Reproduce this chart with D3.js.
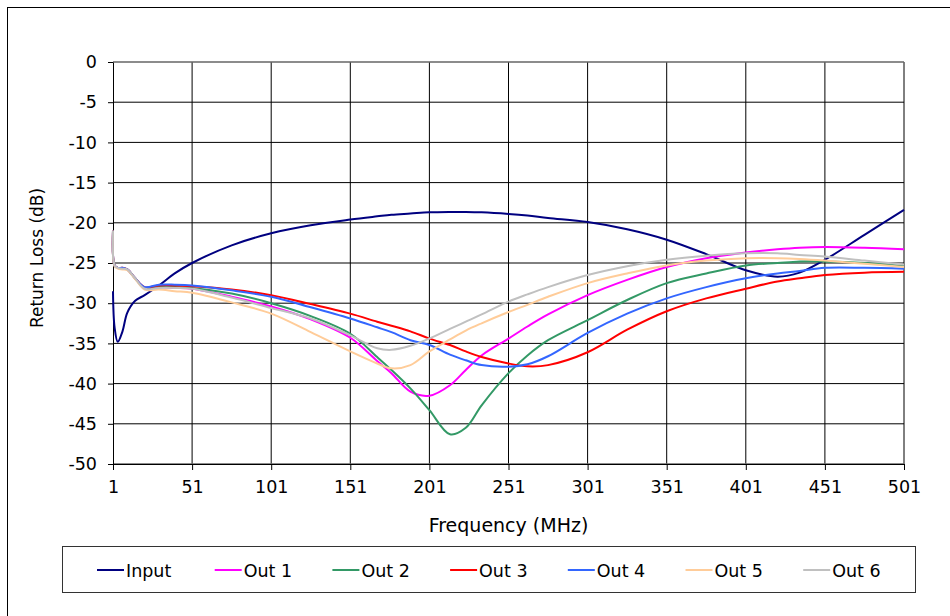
<!DOCTYPE html>
<html>
<head>
<meta charset="utf-8">
<script src="https://cdn.jsdelivr.net/npm/d3@7"></script>
<style>
  body { margin: 0; background: #fff; }
  svg { display: block; font-family: "DejaVu Sans", Verdana, sans-serif; }
</style>
</head>
<body>
<div id="chart"></div>
<script>
// valores (dB) en cada frecuencia (MHz)
const frecuencias = [1, 2, 4, 7, 10, 15, 21, 30, 40, 51, 76, 101, 126, 151, 168, 177, 189, 201, 214, 224, 234, 251, 263, 276, 301, 326, 351, 376, 401, 421, 435, 451, 476, 501];

const input = [-28.5, -33.0, -34.8, -33.5, -31.2, -29.7, -29.0, -27.8, -26.3, -25.0, -22.8, -21.3, -20.3, -19.6, -19.2, -19.0, -18.85, -18.7, -18.65, -18.65, -18.7, -18.9, -19.1, -19.4, -19.9, -20.8, -22.1, -23.9, -25.9, -26.7, -26.2, -24.6, -21.5, -18.4];
const out1 = [-21.0, -25.3, -25.6, -25.7, -25.8, -26.9, -28.1, -28.0, -28.1, -28.2, -29.2, -30.4, -32.0, -34.3, -37.2, -38.7, -41.0, -41.5, -40.2, -38.3, -36.5, -34.4, -32.9, -31.4, -29.0, -27.1, -25.5, -24.4, -23.7, -23.3, -23.1, -23.0, -23.1, -23.3];
const out2 = [-21.0, -25.3, -25.6, -25.7, -25.8, -26.9, -28.1, -27.9, -28.0, -28.1, -28.8, -30.0, -31.6, -33.8, -36.7, -38.3, -40.6, -43.3, -46.3, -45.5, -42.7, -38.7, -36.5, -34.6, -32.1, -29.6, -27.5, -26.3, -25.3, -25.0, -24.8, -24.8, -25.0, -25.4];
const out3 = [-21.0, -25.3, -25.6, -25.6, -25.8, -26.9, -28.0, -27.8, -27.8, -27.9, -28.3, -29.0, -30.1, -31.3, -32.3, -32.8, -33.5, -34.4, -35.2, -36.0, -36.7, -37.5, -37.85, -37.7, -36.1, -33.3, -31.0, -29.4, -28.2, -27.3, -26.9, -26.5, -26.2, -26.1];
const out4 = [-21.0, -25.3, -25.6, -25.6, -25.8, -26.9, -28.0, -27.7, -27.7, -27.8, -28.4, -29.2, -30.5, -31.9, -33.0, -33.6, -34.6, -35.2, -36.4, -37.1, -37.7, -37.9, -37.6, -36.6, -33.7, -31.3, -29.4, -28.0, -26.9, -26.3, -26.0, -25.6, -25.6, -25.7];
const out5 = [-21.0, -25.4, -25.7, -25.8, -25.9, -27.0, -28.3, -28.3, -28.5, -28.7, -29.9, -31.3, -33.6, -36.0, -37.5, -38.1, -37.7, -36.0, -34.5, -33.4, -32.5, -31.1, -30.2, -29.2, -27.5, -26.3, -25.3, -24.7, -24.4, -24.4, -24.5, -24.7, -25.1, -25.5];
const out6 = [-21.0, -25.3, -25.6, -25.7, -25.8, -26.9, -28.2, -28.1, -28.1, -28.2, -29.3, -30.6, -31.9, -34.0, -35.6, -35.8, -35.3, -34.4, -33.2, -32.3, -31.4, -29.8, -28.9, -28.0, -26.5, -25.4, -24.6, -24.1, -23.8, -23.8, -24.0, -24.2, -24.7, -25.2];

const nombresSeries = ["Input", "Out 1", "Out 2", "Out 3", "Out 4", "Out 5", "Out 6"];
const coloresSeries = ["#000080", "#FF00FF", "#339966", "#FF0000", "#3366FF", "#FFCC99", "#C0C0C0"];
const valoresSeries = [input, out1, out2, out3, out4, out5, out6];

const ticksX = [1, 51, 101, 151, 201, 251, 301, 351, 401, 451, 501];
const ticksY = [0, -5, -10, -15, -20, -25, -30, -35, -40, -45, -50];

const width = 950, height = 616;
const margen = { izq: 113, der: 904, sup: 62, inf: 464 };
const tamLetra = 17.5;

const svg = d3.select('#chart').append('svg')
    .attr('width', width)
    .attr('height', height);

// marco exterior
svg.append('rect')
    .attr('x', 7.5).attr('y', 7.5)
    .attr('width', width).attr('height', height)
    .attr('fill', 'none')
    .attr('stroke', '#000');

const x = d3.scaleLinear().domain([1, 501]).range([margen.izq, margen.der]);
const y = d3.scaleLinear().domain([-50, 0]).range([margen.inf, margen.sup]);

// rejilla
svg.append('g').selectAll('line')
    .data(ticksX.slice(1))
    .enter().append('line')
    .attr('x1', d => x(d)).attr('x2', d => x(d))
    .attr('y1', margen.sup).attr('y2', margen.inf)
    .attr('stroke', '#000').attr('stroke-width', 1);

svg.append('g').selectAll('line')
    .data(ticksY)
    .enter().append('line')
    .attr('x1', margen.izq).attr('x2', margen.der)
    .attr('y1', d => y(d)).attr('y2', d => y(d))
    .attr('stroke', d => (d === 0 || d === -50) ? '#666' : '#000')
    .attr('stroke-width', d => (d === 0 || d === -50) ? 1.5 : 1);

// ejes
const ejeX = svg.append('g')
    .attr('transform', `translate(0,${margen.inf})`)
    .call(d3.axisBottom(x).tickValues(ticksX).tickSize(6).tickPadding(11).tickSizeOuter(0));
const ejeY = svg.append('g')
    .attr('transform', `translate(${margen.izq},0)`)
    .call(d3.axisLeft(y).tickValues(ticksY).tickSize(5).tickPadding(11).tickSizeOuter(0)
        .tickFormat(d => String(d)));

[ejeX, ejeY].forEach(g => {
    g.select('.domain').attr('stroke', '#000');
    g.selectAll('.tick line').attr('stroke', '#000');
    g.selectAll('.tick text')
        .attr('font-family', '"DejaVu Sans", Verdana, sans-serif')
        .attr('font-size', tamLetra)
        .attr('fill', '#000');
});

// titulos de ejes
svg.append('text')
    .attr('x', (margen.izq + margen.der) / 2)
    .attr('y', 532)
    .attr('text-anchor', 'middle')
    .attr('font-size', 19)
    .text('Frequency (MHz)');

svg.append('text')
    .attr('transform', `translate(43,${(margen.sup + margen.inf) / 2 - 5}) rotate(-90)`)
    .attr('text-anchor', 'middle')
    .attr('font-size', 17)
    .text('Return Loss (dB)');

// curvas
const linea = d3.line()
    .x((d, i) => x(frecuencias[i]))
    .y(d => y(d))
    .curve(d3.curveCatmullRom.alpha(0.5));

svg.append('g').selectAll('path')
    .data(valoresSeries)
    .enter().append('path')
    .attr('d', d => linea(d))
    .attr('fill', 'none')
    .attr('stroke', (d, i) => coloresSeries[i])
    .attr('stroke-width', 2);

// leyenda
svg.append('rect')
    .attr('x', 62.5).attr('y', 546.5)
    .attr('width', 853).attr('height', 46)
    .attr('fill', '#fff')
    .attr('stroke', '#333');

const leyenda = svg.append('g').selectAll('g')
    .data(nombresSeries)
    .enter().append('g')
    .attr('transform', (d, i) => `translate(${97 + i * 117.7},570)`);

leyenda.append('line')
    .attr('x1', 0).attr('x2', 27)
    .attr('stroke', (d, i) => coloresSeries[i])
    .attr('stroke-width', 2);

leyenda.append('text')
    .attr('x', 29)
    .attr('y', 6.5)
    .attr('font-size', tamLetra)
    .text(d => d);
</script>
</body>
</html>
